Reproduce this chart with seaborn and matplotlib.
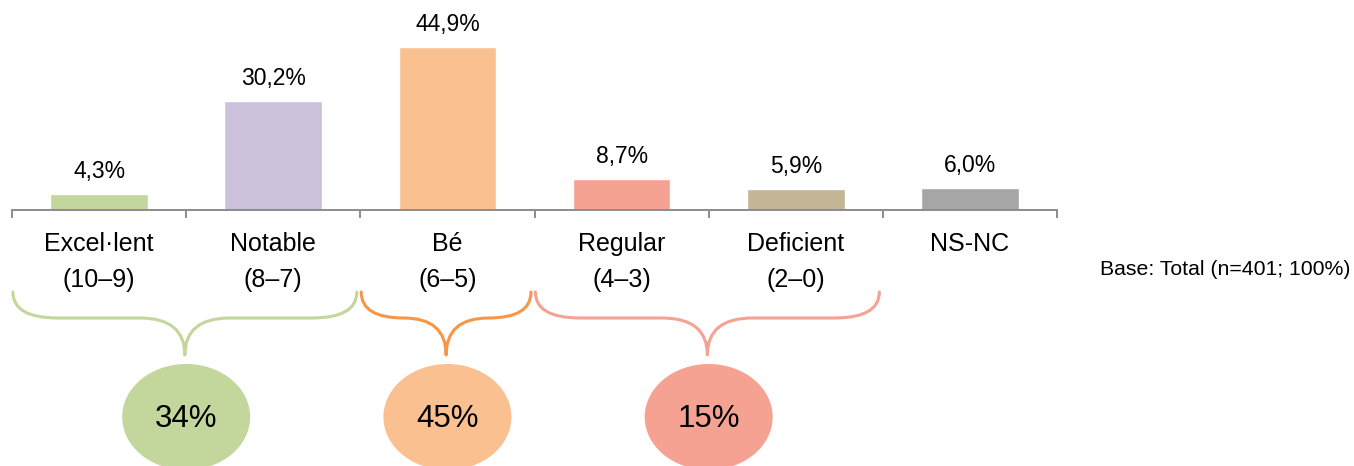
import matplotlib
matplotlib.use("Agg")
import matplotlib.pyplot as plt
from matplotlib.path import Path
from matplotlib.patches import PathPatch, Ellipse
import seaborn as sns
import pandas as pd

# ---- data ----
categories = ["Excel·lent\n(10–9)", "Notable\n(8–7)", "Bé\n(6–5)",
              "Regular\n(4–3)", "Deficient\n(2–0)", "NS-NC"]
values = [4.3, 30.2, 44.9, 8.7, 5.9, 6.0]
value_labels = ["4,3%", "30,2%", "44,9%", "8,7%", "5,9%", "6,0%"]
bar_colors = ["#C3D69B", "#CCC1DA", "#FAC090", "#F5A293", "#C4B596", "#A6A6A6"]

group_first = [0, 2, 3]
group_last = [1, 2, 4]
group_labels = ["34%", "45%", "15%"]
group_brace_colors = ["#C3D69B", "#F79646", "#F5A293"]
group_fill_colors = ["#C3D69B", "#FAC090", "#F5A293"]
base_note = "Base: Total (n=401; 100%)"

# ---- style ----
sns.set_style("white")
plt.rcParams["font.family"] = ["Liberation Sans", "DejaVu Sans"]

W, H = 1354, 466
fig = plt.figure(figsize=(W / 100, H / 100), dpi=100)

x0_px, x1_px = 12, 1057
base_px = 210          # axis baseline (from top)
top_px = 29
ax = fig.add_axes([x0_px / W, (H - base_px) / H, (x1_px - x0_px) / W, (base_px - top_px) / H])

df = pd.DataFrame({"cat": categories, "val": values})
sns.barplot(data=df, x="cat", y="val", hue="cat", palette=bar_colors,
            order=categories, hue_order=categories, dodge=False,
            width=0.56, legend=False, ax=ax, saturation=1)

ax.set_xlim(-0.5, len(categories) - 0.5)
ax.set_ylim(0, 50)
ax.set_xlabel("")
ax.set_ylabel("")
ax.set_yticks([])
for s in ["left", "right", "top"]:
    ax.spines[s].set_visible(False)
ax.spines["bottom"].set_color("#8C8C8C")
ax.spines["bottom"].set_linewidth(1.4)

# major ticks at category boundaries, labels on minor ticks at centres
ax.set_xticks([i - 0.5 for i in range(len(categories) + 1)])
ax.set_xticklabels([])
ax.set_xticks(range(len(categories)), minor=True)
ax.set_xticklabels(categories, minor=True, fontsize=18, linespacing=1.66,
                   color="#000000")
ax.tick_params(axis="x", which="major", direction="out", length=5.8,
               width=1.4, color="#8C8C8C", bottom=True)
ax.tick_params(axis="x", which="minor", length=0, pad=15.5)

for i, (v, lab) in enumerate(zip(values, value_labels)):
    ax.annotate(lab, xy=(i, v), xytext=(0, 11.5), textcoords="offset points",
                ha="center", va="baseline", fontsize=16.5, color="#000000")

# ---- lower annotation axes (y = pixels below baseline) ----
ax2 = fig.add_axes([x0_px / W, 0, (x1_px - x0_px) / W, (H - base_px) / H])
ax2.set_xlim(-0.5, len(categories) - 0.5)
ax2.set_ylim(H - base_px, 0)
ax2.axis("off")

px_per_unit = (x1_px - x0_px) / len(categories)
y_end, y_mid, y_tip = 82, 108, 145


def brace(axis, xa, xb, color):
    xc = (xa + xb) / 2
    r = min(45 / px_per_unit, (xb - xa) / 4)
    verts = [(xa, y_end), (xa, y_mid), (xa + r, y_mid),
             (xc - r, y_mid),
             (xc, y_mid), (xc, y_tip),
             (xc, y_mid), (xc + r, y_mid),
             (xb - r, y_mid),
             (xb, y_mid), (xb, y_end)]
    codes = [Path.MOVETO, Path.CURVE3, Path.CURVE3,
             Path.LINETO,
             Path.CURVE3, Path.CURVE3,
             Path.CURVE3, Path.CURVE3,
             Path.LINETO,
             Path.CURVE3, Path.CURVE3]
    axis.add_patch(PathPatch(Path(verts, codes), facecolor="none",
                             edgecolor=color, lw=2.2, capstyle="round",
                             joinstyle="round", clip_on=False))


for f, l, lab, bc, fc in zip(group_first, group_last, group_labels,
                             group_brace_colors, group_fill_colors):
    xa = f - 0.5 + 0.005
    xb = l + 0.5 - 0.02
    brace(ax2, xa, xb, bc)
    xc = (f + l) / 2
    ax2.add_patch(Ellipse((xc, 207), width=128 / px_per_unit, height=106,
                          facecolor=fc, edgecolor="none", clip_on=False))
    ax2.text(xc, 217, lab, ha="center", va="baseline", fontsize=22.5,
             color="#000000")

fig.text(1350 / W, (H - 275) / H, base_note, ha="right", va="baseline",
         fontsize=15.3, color="#000000")

fig.savefig("out.png", dpi=100)
